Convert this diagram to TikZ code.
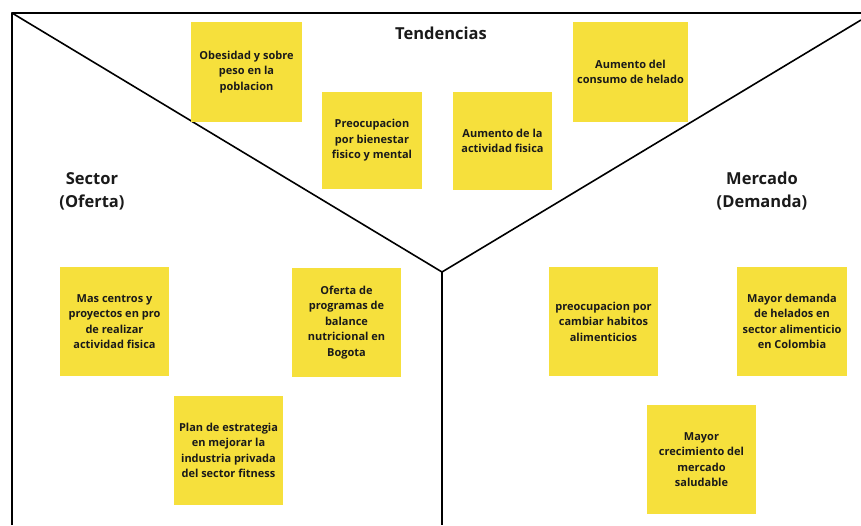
\documentclass[tikz,border=0pt]{standalone}
\usepackage{fontspec}
\setmainfont{Open Sans}
\usetikzlibrary{positioning}
\definecolor{notefill}{HTML}{F6E03C}
\definecolor{noteink}{HTML}{1A1A1A}

\begin{document}
\begin{tikzpicture}[
    x=1pt, y=-1pt,
    frameline/.style = {black, line width=1.6pt, line join=round},
    note/.style      = {fill=notefill, text=noteink, inner sep=0pt, align=center,
                        font=\bfseries\fontsize{11}{15.5}\selectfont},
    heading/.style   = {text=noteink, align=center,
                        font=\bfseries\fontsize{16.5}{23}\selectfont}
  ]

% canvas
\fill[white] (0,0) rectangle (861,525);
\useasboundingbox (0,0) rectangle (861,525);

% =========================================================
% Frame and the Y split
% =========================================================
\coordinate (topleft)  at (12,13);
\coordinate (topright) at (861,13);
\coordinate (rightend) at (861,20);
\coordinate (hub)      at (442,272);
\coordinate (botleft)  at (12,525);
\coordinate (botmid)   at (442,525);

\draw[frameline] (botleft) -- (topleft) -- (topright);
\draw[frameline] (topleft) -- (hub) -- (rightend);
\draw[frameline] (hub) -- (botmid);

% =========================================================
% Headings
% =========================================================
\node[heading] (tendencias) at (441,33) {Tendencias};
\node[heading] (sector)     at (92,191) {Sector\\(Oferta)};
\node[heading] (mercado)    at (762,191) {Mercado\\(Demanda)};

% =========================================================
% Tendencias notes
% =========================================================
\node[note, minimum width=111pt, minimum height=100pt] (obesidad) at (246.5,72)
  {Obesidad y sobre\\peso en la\\poblacion};
\node[note, minimum width=100pt, minimum height=97pt] (bienestar) at (372,140.5)
  {Preocupacion\\por bienestar\\fisico y mental};
\node[note, minimum width=99pt, minimum height=98pt] (actividad) at (502.5,141)
  {Aumento de la\\actividad fisica};
\node[note, minimum width=115pt, minimum height=100pt] (helado) at (630.5,72)
  {Aumento del\\consumo de helado};

% =========================================================
% Sector (Oferta) notes
% =========================================================
\node[note, minimum width=109pt, minimum height=109pt] (centros) at (114.5,321.5)
  {Mas centros y\\proyectos en pro\\de realizar\\actividad fisica};
\node[note, minimum width=109pt, minimum height=109pt] (programas) at (346.5,322.5)
  {Oferta de\\programas de\\balance\\nutricional en\\Bogota};
\node[note, minimum width=109pt, minimum height=109pt] (estrategia) at (228.5,450.5)
  {Plan de estrategia\\en mejorar la\\industria privada\\del sector fitness};

% =========================================================
% Mercado (Demanda) notes
% =========================================================
\node[note, minimum width=109pt, minimum height=109pt] (habitos) at (603.5,321.5)
  {preocupacion por\\cambiar habitos\\alimenticios};
\node[note, minimum width=110pt, minimum height=109pt] (demanda) at (792,321.5)
  {Mayor demanda\\de helados en\\sector alimenticio\\en Colombia};
\node[note, minimum width=109pt, minimum height=109pt] (saludable) at (701.5,459.5)
  {Mayor\\crecimiento del\\mercado\\saludable};

\end{tikzpicture}
\end{document}
